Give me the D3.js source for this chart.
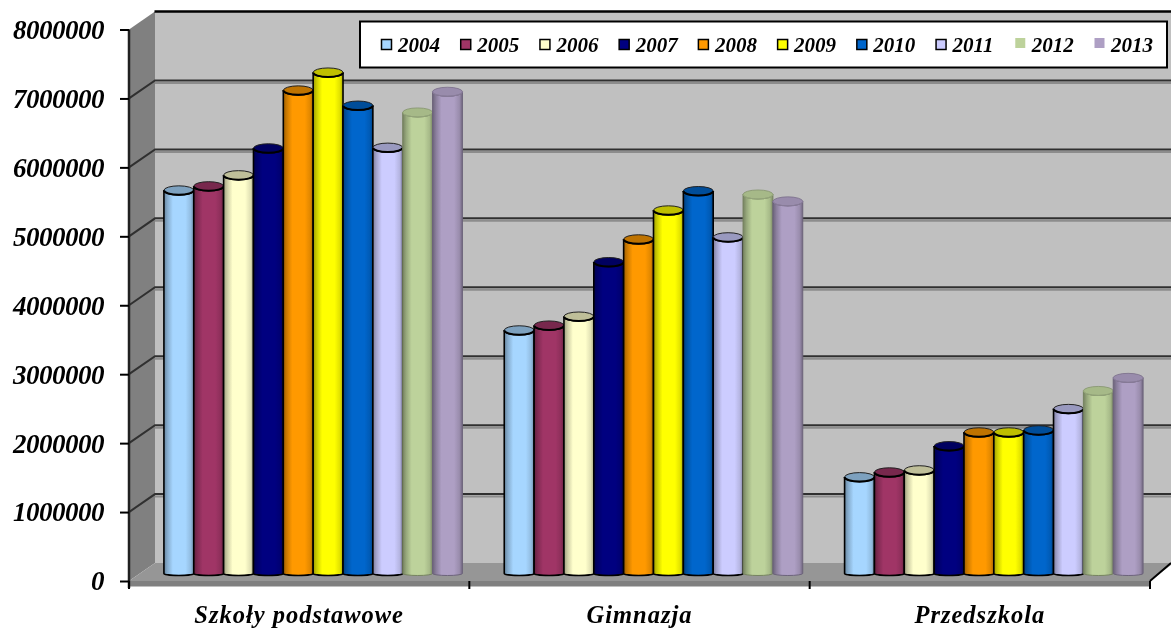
<!DOCTYPE html>
<html><head><meta charset="utf-8">
<script src="https://cdn.jsdelivr.net/npm/d3@7"></script>
<style>html,body{margin:0;padding:0;background:#fff}svg{display:block;filter:blur(0.45px)}
text{font-family:"Liberation Serif",serif;font-weight:bold;font-style:italic;fill:#000}</style>
</head><body><svg id="c" width="1171" height="628"></svg>
<script>
const categories = ["Szkoły podstawowe", "Gimnazja", "Przedszkola"];
const years = ["2004","2005","2006","2007","2008","2009","2010","2011","2012","2013"];
const colors = ["#a6d6ff","#a03566","#ffffcc","#000080","#ff9900","#ffff00","#0066cc","#ccccff","#bdd29b","#ae9fc4"];
const szkoly = [5580000,5640000,5800000,6190000,7030000,7290000,6810000,6200000,6710000,7010000];
const gimnazja = [3550000,3620000,3750000,4540000,4870000,5290000,5570000,4900000,5520000,5420000];
const przedszkola = [1420000,1490000,1520000,1870000,2070000,2070000,2100000,2410000,2670000,2860000];
const series = [szkoly, gimnazja, przedszkola];
const yTicks = [0,1000000,2000000,3000000,4000000,5000000,6000000,7000000,8000000];

const svg = d3.select("#c");
const dx = 26, dy = -18;
const y = d3.scaleLinear().domain([0,8000000]).range([581,29.5]);
const x0 = d3.scaleBand().domain(categories).range([129,1150]);
const x1 = d3.scaleBand().domain(years).range([0,298.5]);
const X0 = x0.range()[0], X1 = x0.range()[1];
const yb = y(0), yt = y(8000000);
const poly = p => "M"+p.map(a=>a.join(",")).join("L")+"Z";

// back wall, side wall, floor
svg.append("rect").attr("x",X0+dx).attr("y",yt+dy).attr("width",1171-X0-dx).attr("height",yb-yt).attr("fill","#c0c0c0");
svg.append("path").attr("d",poly([[X0,yt],[X0+dx,yt+dy],[X0+dx,yb+dy],[X0,yb]])).attr("fill","#808080");
svg.append("path").attr("d",poly([[X0,yb],[X0+dx,yb+dy],[1171,yb+dy],[1171,yb+dy+2],[X1,yb]])).attr("fill","#969696");
svg.append("rect").attr("x",X0).attr("y",yb).attr("width",X1-X0).attr("height",5.5).attr("fill","#808080");
svg.append("line").attr("x1",X0+dx-.5).attr("x2",1171).attr("y1",yt+dy).attr("y2",yt+dy).attr("stroke","#000").attr("stroke-width",2.5);

// gridlines with wall returns
const grid = yTicks.filter(t=>t>0 && t<8000000);
svg.selectAll(".gs").data(grid).join("line").attr("x1",X0+dx).attr("x2",1171)
  .attr("y1",t=>y(t)+dy+2.5).attr("y2",t=>y(t)+dy+2.5).attr("stroke","#8c8c8c").attr("stroke-width",2);
svg.selectAll(".g").data(grid).join("path").attr("fill","none").attr("stroke","#303030").attr("stroke-width",2)
  .attr("d",t=>`M${X0},${y(t)}L${X0+dx},${y(t)+dy}L1171,${y(t)+dy}`);
svg.append("line").attr("x1",X1).attr("y1",yb).attr("x2",1171).attr("y2",yb+dy).attr("stroke","#000").attr("stroke-width",2);

// axes
const axL = d3.axisLeft(y).tickValues(yTicks).tickSize(9).tickFormat(d3.format("d"));
const gL = svg.append("g").attr("transform",`translate(${X0},0)`).call(axL);
gL.select(".domain").attr("stroke","#202020").attr("stroke-width",2.5);
gL.selectAll("line").attr("stroke","#000").attr("stroke-width",2);
gL.selectAll("text").attr("x",-25).attr("dy","0.33em").style("font-size","27px").style("letter-spacing","-0.5px");
gL.select(".domain").attr("d",`M0,${yt}V${yb+7}`);

const axB = d3.axisBottom(x0).tickSize(0);
const gB = svg.append("g").attr("transform",`translate(0,${yb})`).call(axB);
gB.select(".domain").remove();
gB.selectAll("text").attr("y",42).attr("dy",0).style("font-size","24.5px").style("letter-spacing","1px");
svg.selectAll(".ct").data(d3.range(categories.length+1)).join("line")
  .attr("x1",i=>X0+i*x0.step()).attr("x2",i=>X0+i*x0.step()).attr("y1",yb).attr("y2",yb+8)
  .attr("stroke","#000").attr("stroke-width",2);

// cylinder gradients
const defs = svg.append("defs");
const shade = (c,k)=>d3.interpolateRgb(c,"#000")(k);
colors.forEach((c,i)=>{
  const g = defs.append("linearGradient").attr("id","g"+i);
  [[0,shade(c,.38)],[.12,shade(c,.2)],[.3,c],[.72,c],[.9,shade(c,.12)],[1,shade(c,.35)]]
    .forEach(s=>g.append("stop").attr("offset",s[0]).attr("stop-color",s[1]));
});

// cylinders
const ry = 4.5, baseRy = 2, baseY = yb - 7.5, zOff = 14;
series.forEach((vals,ci)=>{
  const g = svg.append("g").attr("transform",`translate(${x0(categories[ci])+x0.bandwidth()/2-149.25+zOff},0)`);
  vals.forEach((v,i)=>{
    const a = x1(years[i]), w = x1.bandwidth(), b = a+w, rx = w/2, top = y(v)-6;
    const noLine = i>=8;
    const ln = noLine ? shade(colors[i],.38) : "#000";
    g.append("path").attr("fill",`url(#g${i})`).attr("stroke",ln).attr("stroke-width",noLine?1:1.6)
      .attr("d",`M${a},${top}L${a},${baseY}A${rx},${baseRy} 0 0 0 ${b},${baseY}L${b},${top}A${rx},${ry} 0 0 1 ${a},${top}Z`);
    g.append("ellipse").attr("cx",a+rx).attr("cy",top).attr("rx",rx).attr("ry",ry)
      .attr("fill",shade(colors[i],noLine?.12:.25)).attr("stroke",noLine?shade(colors[i],.3):"#222").attr("stroke-width",noLine?.8:1);
    g.append("path").attr("fill","none").attr("stroke",noLine?shade(colors[i],.2):"#000").attr("stroke-width",noLine?.8:2)
      .attr("d",`M${a},${top}A${rx},${ry} 0 0 0 ${b},${top}`);
  });
});

// legend
svg.append("rect").attr("x",360).attr("y",21.5).attr("width",807).attr("height",46).attr("fill","#fff").attr("stroke","#000").attr("stroke-width",2);
const lx = d3.scalePoint().domain(years).range([381,1094]);
const lg = svg.selectAll(".l").data(years).join("g").attr("transform",d=>`translate(${lx(d)},0)`);
lg.append("rect").attr("x",0.5).attr("y",(d,i)=>i>=8?38:39.5).attr("width",10).attr("height",10)
  .attr("fill",(d,i)=>colors[i]).attr("stroke",(d,i)=>i>=8?"none":"#000").attr("stroke-width",1.5);
lg.append("text").attr("x",17).attr("y",52).style("font-size","21px").text(d=>d);
</script></body></html>
